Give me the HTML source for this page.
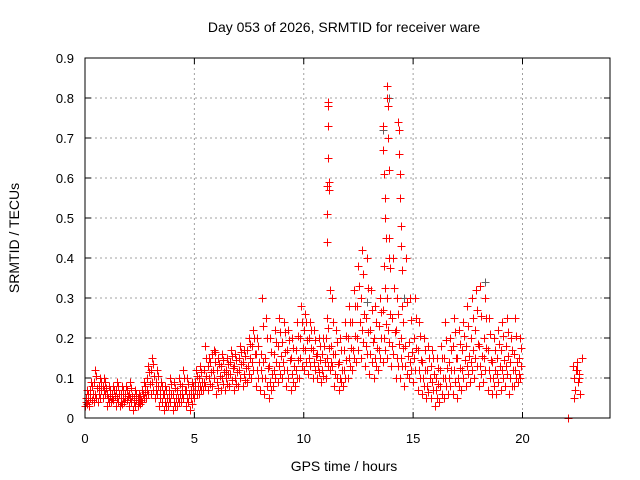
<!DOCTYPE html>
<html><head><meta charset="utf-8"><style>
body{margin:0;background:#fff}
svg{display:block;font-family:"Liberation Sans",sans-serif;font-size:13px}
</style></head><body>
<svg id="chart" width="640" height="480" viewBox="0 0 640 480" xmlns="http://www.w3.org/2000/svg">
<rect width="640" height="480" fill="#fff"/>
<g id="grid"></g>
<g id="pts" shape-rendering="crispEdges"></g>
<rect x="85" y="58" width="525" height="360" fill="none" stroke="#000" stroke-width="1"/>
<g id="ticks"></g>
<text x="344" y="32" text-anchor="middle" font-size="14">Day 053 of 2026, SRMTID for receiver ware</text>
<text x="344" y="471" text-anchor="middle" font-size="14">GPS time / hours</text>
<text transform="translate(19,238) rotate(-90)" text-anchor="middle" font-size="14">SRMTID / TECUs</text>
</svg>
<script>
const xTicks=[0,5,10,15,20];
const yTicks=[0,0.1,0.2,0.3,0.4,0.5,0.6,0.7,0.8,0.9];
const hours=[0,0.2,0.4,0.6,0.8,1,1.2,1.4,1.6,1.8,2,2.2,2.4,2.6,2.8,3,3.2,3.4,3.6,3.8,4,4.2,4.4,4.6,4.8,5,5.2,5.4,5.6,5.8,6,6.2,6.4,6.6,6.8,7,7.2,7.4,7.6,7.8,8,8.2,8.4,8.6,8.8,9,9.2,9.4,9.6,9.8,10,10.2,10.4,10.6,10.8,11,11.2,11.4,11.6,11.8,12,12.2,12.4,12.6,12.8,13,13.2,13.4,13.6,13.8,14,14.2,14.4,14.6,14.8,15,15.2,15.4,15.6,15.8,16,16.2,16.4,16.6,16.8,17,17.2,17.4,17.6,17.8,18,18.2,18.4,18.6,18.8,19,19.2,19.4,19.6,19.8];
const valsLow=[.03,.03,.04,.04,.05,.03,.04,.03,.03,.04,.03,.02,.03,.04,.05,.06,.05,.03,.02,.03,.02,.03,.04,.03,.02,.05,.06,.07,.07,.08,.06,.07,.07,.08,.07,.08,.08,.09,.1,.08,.07,.06,.05,.08,.09,.1,.08,.07,.08,.1,.12,.11,.1,.1,.09,.1,.12,.08,.07,.08,.1,.12,.14,.15,.13,.11,.1,.12,.14,.15,.13,.1,.1,.08,.1,.09,.07,.06,.05,.05,.03,.04,.05,.06,.06,.05,.07,.08,.09,.1,.08,.09,.07,.06,.06,.07,.08,.06,.08,.09];
const valsLow2=[.035,.045,.05,.05,.06,.04,.045,.04,.035,.045,.04,.03,.035,.05,.06,.07,.06,.04,.03,.04,.03,.04,.05,.04,.035,.06,.07,.08,.085,.1,.075,.085,.085,.095,.085,.1,.095,.11,.12,.1,.1,.08,.07,.1,.11,.12,.1,.09,.1,.13,.14,.13,.12,.115,.105,.13,.13,.1,.09,.1,.13,.15,.17,.19,.16,.14,.13,.15,.17,.19,.16,.13,.13,.11,.12,.12,.1,.08,.065,.07,.05,.06,.08,.08,.09,.08,.1,.11,.12,.13,.11,.12,.1,.08,.09,.1,.11,.08,.1,.1];
const valsMidLow=[.04,.05,.06,.06,.07,.05,.05,.05,.04,.05,.05,.04,.04,.06,.07,.09,.07,.05,.04,.05,.04,.05,.06,.05,.05,.07,.08,.09,.1,.12,.09,.1,.1,.11,.1,.12,.11,.13,.14,.12,.12,.1,.09,.12,.13,.14,.12,.11,.12,.15,.17,.15,.14,.13,.12,.15,.14,.11,.1,.12,.15,.17,.2,.22,.18,.16,.15,.17,.2,.22,.18,.15,.15,.13,.14,.15,.12,.1,.08,.09,.07,.08,.1,.1,.12,.1,.12,.13,.14,.15,.13,.15,.12,.1,.11,.12,.13,.1,.12,.11];
const valsMid=[.045,.06,.075,.07,.075,.055,.055,.06,.05,.055,.055,.045,.045,.065,.085,.105,.08,.06,.05,.06,.05,.06,.07,.06,.06,.08,.09,.105,.115,.14,.105,.115,.11,.125,.115,.135,.125,.15,.16,.14,.14,.125,.11,.14,.155,.165,.145,.13,.145,.175,.195,.175,.155,.145,.14,.175,.16,.135,.12,.145,.175,.205,.24,.26,.215,.19,.175,.2,.235,.26,.215,.185,.175,.155,.165,.175,.145,.12,.1,.11,.085,.1,.125,.12,.15,.125,.145,.155,.17,.185,.155,.175,.145,.12,.13,.145,.155,.12,.14,.13];
const valsMidHigh=[.05,.07,.09,.08,.08,.06,.06,.07,.06,.06,.06,.05,.05,.07,.1,.12,.09,.07,.06,.07,.06,.07,.08,.07,.07,.09,.1,.12,.13,.16,.12,.13,.12,.14,.13,.15,.14,.17,.18,.16,.16,.15,.13,.16,.18,.19,.17,.15,.17,.2,.22,.2,.17,.16,.16,.2,.18,.16,.14,.17,.2,.24,.28,.3,.25,.22,.2,.23,.27,.3,.25,.22,.2,.18,.19,.2,.17,.14,.12,.13,.1,.12,.15,.14,.18,.15,.17,.18,.2,.22,.18,.2,.17,.14,.15,.17,.18,.14,.16,.15];
const valsHigh2=[.06,.08,.105,.09,.09,.07,.07,.08,.07,.07,.075,.06,.055,.08,.115,.135,.105,.08,.07,.085,.075,.085,.1,.085,.08,.105,.115,.15,.14,.165,.135,.145,.135,.155,.145,.165,.155,.185,.2,.18,.23,.2,.165,.19,.215,.215,.195,.175,.205,.24,.24,.22,.195,.18,.18,.225,.24,.19,.17,.205,.24,.28,.33,.36,.325,.27,.24,.265,.325,.375,.325,.26,.24,.29,.245,.25,.205,.17,.15,.15,.125,.15,.195,.17,.215,.185,.205,.23,.25,.27,.255,.25,.21,.17,.185,.205,.215,.17,.205,.175];
const valsHigh=[.07,.09,.12,.1,.1,.08,.08,.09,.08,.08,.09,.07,.06,.09,.13,.15,.12,.09,.08,.1,.09,.1,.12,.1,.09,.12,.13,.18,.15,.17,.15,.16,.15,.17,.16,.18,.17,.2,.22,.2,.3,.25,.2,.22,.25,.24,.22,.2,.24,.28,.26,.24,.22,.2,.2,.25,.3,.22,.2,.24,.28,.32,.38,.42,.4,.32,.28,.3,.38,.45,.4,.3,.28,.4,.3,.3,.24,.2,.18,.17,.15,.18,.24,.2,.25,.22,.24,.28,.3,.32,.33,.3,.25,.2,.22,.24,.25,.2,.25,.2];
const spikeHours=[11.05,11.05,11.05,11.1,11.1,11.1,11.1,11.15,11.15,11.2,13.6,13.6,13.65,13.7,13.7,13.75,13.8,13.8,13.85,13.85,13.9,13.9,14.3,14.35,14.35,14.4,14.4,14.45,14.45,14.5,22.1,22.3,22.35,22.4,22.45,22.5,22.55,22.6,22.65,22.7,22.35,22.5,22.6];
const spikeVals=[.44,.51,.58,.65,.73,.78,.79,.57,.59,.32,.73,.67,.61,.55,.5,.45,.83,.8,.78,.7,.62,.4,.74,.72,.66,.61,.55,.48,.43,.37,0,.13,.1,.07,.12,.14,.09,.11,.06,.15,.05,.12,.1];
const grayHours=[13.6,13.9,18.3,12.9,14.6];
const grayVals=[.72,.8,.34,.29,.3];

const X=h=>85+h*525/24, Y=v=>418-v*400;
const NS="http://www.w3.org/2000/svg";
const grid=document.getElementById('grid'),ticks=document.getElementById('ticks'),pts=document.getElementById('pts');
function mk(tag,attrs,parent){const e=document.createElementNS(NS,tag);for(const k in attrs)e.setAttribute(k,attrs[k]);parent.appendChild(e);return e;}
xTicks.forEach(t=>{const x=X(t);
 const g=mk('line',{x1:x,x2:x,y1:58,y2:418,stroke:'#a0a0a0','stroke-dasharray':'2,3'},grid);
 
 const tk=mk('path',{d:`M${x} 418v-6M${x} 58v6`,stroke:'#000'},ticks);
 
 const l=mk('text',{x:x,y:443,'text-anchor':'middle'},ticks);l.textContent=t;
 });
yTicks.forEach(t=>{const y=Y(t);
 const g=mk('line',{x1:85,x2:610,y1:y,y2:y,stroke:'#a0a0a0','stroke-dasharray':'2,3'},grid);
 
 const tk=mk('path',{d:`M85 ${y}h6M610 ${y}h-6`,stroke:'#000'},ticks);
 
 const l=mk('text',{x:74,y:y+5,'text-anchor':'end'},ticks);l.textContent=t===0?'0':t.toFixed(1);
 });
function cross(h,v,col){const x=Math.round(X(h))+0.5,y=Math.round(Y(v))+0.5;
 const p=mk('path',{d:`M${x-4} ${y}h8M${x} ${y-4}v8`,stroke:col,'stroke-width':1.3},pts);
 }
grayHours.forEach((h,i)=>cross(h,grayVals[i],'#606060'));
const seriesList=[valsLow,valsLow2,valsMidLow,valsMid,valsMidHigh,valsHigh2,valsHigh];
const offs=[0,0.1,0.05,0.15,0.025,0.125,0.075];
seriesList.forEach((arr,k)=>hours.forEach((h,i)=>cross(h+offs[k],arr[i],'#ff0000')));
spikeHours.forEach((h,i)=>cross(h,spikeVals[i],'#ff0000'));
</script>
</body></html>
